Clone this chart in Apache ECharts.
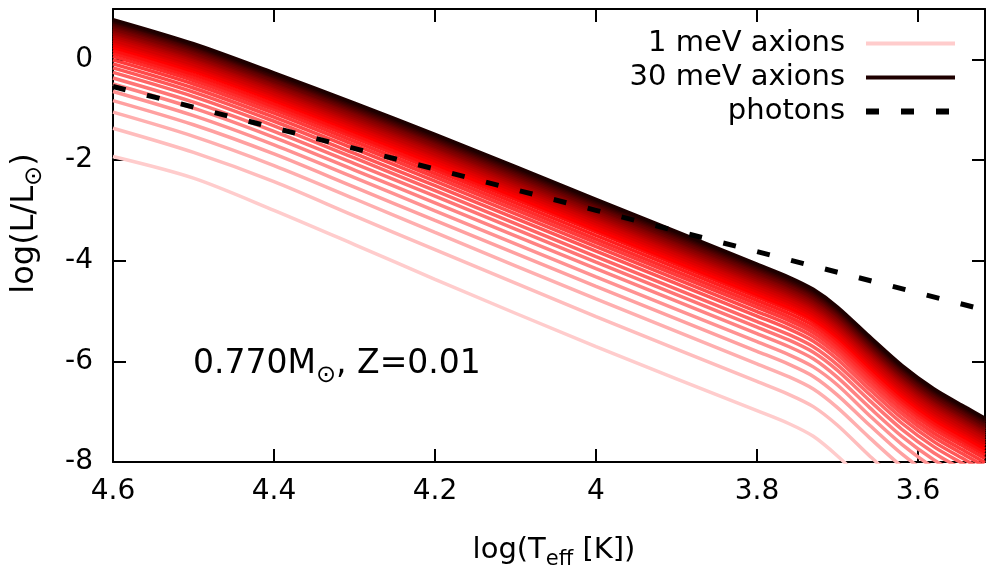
<!DOCTYPE html>
<html><head><meta charset="utf-8">
<script src="https://cdn.jsdelivr.net/npm/echarts@6/dist/echarts.min.js"></script>
<style>html,body{margin:0;padding:0;background:#fff}#c{width:986px;height:567px}</style>
</head><body><div id="c"></div>
<script>
// ---- data ----
const logTeff = [4.6, 4.5, 4.4, 4.3, 4.2, 4.0, 3.8, 3.76, 3.73, 3.70, 3.66, 3.62, 3.58, 3.54, 3.5167];
const axionMasses = [1,2,3,4,5,6,7,8,9,10,11,12,13,14,15,16,17,18,19,20,21,22,23,24,25,26,27,28,29,30];
const axionLogL = [
  [-1.93,-2.36,-3.00,-3.68,-4.37,-5.71,-6.98,-7.24,-7.49,-7.88,-8.48,-9.05,-9.52,-9.89,-10.10],
  [-1.37,-1.85,-2.43,-3.11,-3.78,-5.11,-6.40,-6.66,-6.90,-7.27,-7.88,-8.45,-8.92,-9.29,-9.50],
  [-1.05,-1.53,-2.11,-2.77,-3.44,-4.76,-6.05,-6.31,-6.55,-6.92,-7.52,-8.09,-8.56,-8.93,-9.14],
  [-0.82,-1.30,-1.88,-2.54,-3.20,-4.51,-5.80,-6.06,-6.30,-6.67,-7.27,-7.84,-8.31,-8.68,-8.89],
  [-0.64,-1.12,-1.70,-2.35,-3.01,-4.32,-5.61,-5.87,-6.11,-6.47,-7.08,-7.65,-8.12,-8.49,-8.70],
  [-0.49,-0.97,-1.55,-2.20,-2.85,-4.16,-5.45,-5.71,-5.95,-6.32,-6.92,-7.49,-7.96,-8.33,-8.54],
  [-0.37,-0.85,-1.43,-2.07,-2.72,-4.03,-5.32,-5.58,-5.82,-6.18,-6.78,-7.35,-7.82,-8.19,-8.40],
  [-0.26,-0.74,-1.32,-1.96,-2.61,-3.92,-5.21,-5.47,-5.71,-6.07,-6.66,-7.23,-7.70,-8.07,-8.28],
  [-0.17,-0.65,-1.23,-1.87,-2.51,-3.81,-5.10,-5.36,-5.60,-5.96,-6.56,-7.13,-7.60,-7.97,-8.18],
  [-0.09,-0.57,-1.15,-1.78,-2.42,-3.72,-5.01,-5.27,-5.51,-5.87,-6.47,-7.04,-7.51,-7.88,-8.09],
  [-0.01,-0.49,-1.07,-1.70,-2.34,-3.64,-4.93,-5.19,-5.43,-5.79,-6.39,-6.96,-7.43,-7.80,-8.01],
  [ 0.06,-0.42,-1.00,-1.63,-2.27,-3.57,-4.86,-5.12,-5.36,-5.72,-6.31,-6.88,-7.35,-7.72,-7.93],
  [ 0.12,-0.36,-0.94,-1.56,-2.20,-3.50,-4.79,-5.05,-5.29,-5.65,-6.24,-6.81,-7.28,-7.65,-7.86],
  [ 0.18,-0.30,-0.88,-1.50,-2.14,-3.43,-4.72,-4.98,-5.22,-5.58,-6.18,-6.75,-7.22,-7.59,-7.80],
  [ 0.24,-0.24,-0.82,-1.44,-2.08,-3.38,-4.67,-4.93,-5.17,-5.52,-6.12,-6.69,-7.16,-7.53,-7.74],
  [ 0.29,-0.19,-0.77,-1.39,-2.02,-3.32,-4.61,-4.87,-5.11,-5.47,-6.06,-6.63,-7.10,-7.47,-7.68],
  [ 0.34,-0.14,-0.72,-1.34,-1.97,-3.27,-4.56,-4.82,-5.06,-5.41,-6.01,-6.58,-7.05,-7.42,-7.63],
  [ 0.38,-0.10,-0.68,-1.29,-1.92,-3.22,-4.51,-4.77,-5.01,-5.36,-5.96,-6.53,-7.00,-7.37,-7.58],
  [ 0.43,-0.05,-0.63,-1.25,-1.88,-3.17,-4.46,-4.72,-4.96,-5.32,-5.91,-6.48,-6.95,-7.32,-7.53],
  [ 0.47,-0.01,-0.59,-1.21,-1.83,-3.13,-4.42,-4.68,-4.92,-5.27,-5.86,-6.43,-6.90,-7.27,-7.48],
  [ 0.51, 0.03,-0.55,-1.17,-1.79,-3.09,-4.38,-4.64,-4.88,-5.23,-5.82,-6.39,-6.86,-7.23,-7.44],
  [ 0.54, 0.06,-0.52,-1.13,-1.75,-3.05,-4.34,-4.60,-4.84,-5.19,-5.78,-6.35,-6.82,-7.19,-7.40],
  [ 0.58, 0.10,-0.48,-1.09,-1.72,-3.01,-4.30,-4.56,-4.80,-5.15,-5.74,-6.31,-6.78,-7.15,-7.36],
  [ 0.61, 0.13,-0.45,-1.05,-1.68,-2.97,-4.26,-4.52,-4.76,-5.11,-5.71,-6.28,-6.75,-7.12,-7.33],
  [ 0.65, 0.17,-0.42,-1.02,-1.64,-2.94,-4.23,-4.49,-4.73,-5.08,-5.67,-6.24,-6.71,-7.08,-7.29],
  [ 0.68, 0.20,-0.38,-0.99,-1.61,-2.90,-4.19,-4.45,-4.69,-5.04,-5.64,-6.21,-6.68,-7.05,-7.26],
  [ 0.71, 0.23,-0.35,-0.96,-1.58,-2.87,-4.16,-4.42,-4.66,-5.01,-5.60,-6.17,-6.64,-7.01,-7.22],
  [ 0.74, 0.26,-0.33,-0.93,-1.55,-2.84,-4.13,-4.39,-4.63,-4.98,-5.57,-6.14,-6.61,-6.98,-7.19],
  [ 0.76, 0.28,-0.30,-0.90,-1.52,-2.81,-4.10,-4.36,-4.60,-4.95,-5.54,-6.11,-6.58,-6.95,-7.16],
  [ 0.79, 0.31,-0.27,-0.87,-1.49,-2.78,-4.07,-4.33,-4.57,-4.92,-5.51,-6.08,-6.55,-6.92,-7.13]
];
const photonLogT = [4.6, 4.4, 4.2, 4.0, 3.8, 3.6, 3.5167];
const photonLogL = [-0.54, -1.36, -2.18, -3.00, -3.82, -4.64, -4.98];
const xTickValues = [4.6, 4.4, 4.2, 4.0, 3.8, 3.6];
const yTickValues = [0, -2, -4, -6, -8];
const legendNames = ['1 meV axions', '30 meV axions', 'photons'];

// ---- styling ----
const FONT = 'DejaVu Sans';
function colorFor(m) {
  if (m <= 15) { const c = Math.round(204 * (15 - m) / 14); return 'rgb(255,' + c + ',' + c + ')'; }
  const r = Math.round(255 - 225 * (m - 15) / 15); return 'rgb(' + r + ',0,0)';
}
function nameFor(m) { return m === 1 ? legendNames[0] : (m === 30 ? legendNames[1] : m + ' meV'); }

const series = axionMasses.map((m, i) => ({
  type: 'line', name: nameFor(m),
  data: logTeff.map((t, j) => [t, axionLogL[i][j]]),
  symbol: 'none', smooth: 0.3, clip: true, silent: true,
  color: colorFor(m),
  lineStyle: { width: 3.5, color: colorFor(m) }
}));
series.push({
  type: 'line', name: legendNames[2],
  data: photonLogT.map((t, j) => [t, photonLogL[j]]),
  symbol: 'none', clip: true, silent: true, z: 5, color: '#000',
  lineStyle: { width: 5, color: '#000', type: [13, 22], cap: 'butt' }
});

const axisLineS = { show: true, onZero: false, lineStyle: { color: '#000', width: 2 } };
const tickS = (vals) => ({ show: true, inside: true, length: 13, customValues: vals, lineStyle: { color: '#000', width: 2 } });
const fmt = v => String(Math.round(v * 10) / 10);
function richFor(size, subSize, subLH) {
  return {
    n: { fontFamily: FONT, fontSize: size, color: '#000', lineHeight: size, verticalAlign: 'middle' },
    s: { fontFamily: FONT, fontSize: subSize, color: '#000', lineHeight: subLH, verticalAlign: 'bottom' }
  };
}
const hiddenSymbol = { color: 'rgba(0,0,0,0)', borderColor: 'rgba(0,0,0,0)', borderWidth: 0, opacity: 0 };

const option = {
  animation: false,
  backgroundColor: '#fff',
  grid: { left: 113, right: 1, top: 9, bottom: 105, containLabel: false, outerBoundsMode: 'none' },
  xAxis: [{
    type: 'value', min: 3.5167, max: 4.6, inverse: true, position: 'bottom',
    axisLine: axisLineS, axisTick: tickS(xTickValues), splitLine: { show: false },
    axisLabel: { show: true, customValues: xTickValues, formatter: fmt, fontFamily: FONT, fontSize: 28, color: '#000', margin: 16 },
    name: '{n|log(T}{s|eff}{n| [K])}', nameLocation: 'middle', nameGap: 68,
    nameTextStyle: { fontFamily: FONT, fontSize: 29, color: '#000', rich: richFor(29, 21, 40), padding: [0, 0, 0, 10] }
  }, {
    type: 'value', min: 3.5167, max: 4.6, inverse: true, position: 'top',
    axisLine: axisLineS, axisTick: tickS(xTickValues), splitLine: { show: false },
    axisLabel: { show: false }
  }],
  yAxis: [{
    type: 'value', min: -8, max: 1, position: 'left',
    axisLine: axisLineS, axisTick: tickS(yTickValues), splitLine: { show: false },
    axisLabel: { show: true, customValues: yTickValues, formatter: fmt, fontFamily: FONT, fontSize: 28, color: '#000', margin: 20 },
    name: '{n|log(L/L}{s|⊙}{n|)}', nameLocation: 'middle', nameGap: 66, nameRotate: 90,
    nameTextStyle: { fontFamily: FONT, fontSize: 32, color: '#000', rich: richFor(32, 24, 44), padding: [0, 0, 0, 24] }
  }, {
    type: 'value', min: -8, max: 1, position: 'right',
    axisLine: axisLineS, axisTick: tickS(yTickValues), splitLine: { show: false },
    axisLabel: { show: false }
  }],
  legend: {
    data: [
      { name: legendNames[0], lineStyle: { width: 4 }, itemStyle: hiddenSymbol },
      { name: legendNames[1], lineStyle: { width: 4 }, itemStyle: hiddenSymbol },
      { name: legendNames[2], lineStyle: { width: 6 }, itemStyle: hiddenSymbol }
    ],
    orient: 'vertical', align: 'right', right: 28, top: 29, padding: 0,
    itemGap: 5, itemWidth: 89, itemHeight: 14, selectedMode: false,
    itemStyle: hiddenSymbol,
    textStyle: { fontFamily: FONT, fontSize: 29, color: '#000', padding: [0, 16, 0, 0] }
  },
  graphic: [{
    type: 'text', left: 193, top: 348, silent: true,
    style: {
      text: '{n|0.770M}{s|⊙}{n|, Z=0.01}',
      rich: {
        n: { fontFamily: FONT, fontSize: 33, fill: '#000', lineHeight: 33, verticalAlign: 'middle' },
        s: { fontFamily: FONT, fontSize: 24, fill: '#000', lineHeight: 46, verticalAlign: 'bottom' }
      }
    }
  }],
  series: series
};
const chart = echarts.init(document.getElementById('c'), null, { renderer: 'canvas' });
chart.setOption(option);
</script>
</body></html>
